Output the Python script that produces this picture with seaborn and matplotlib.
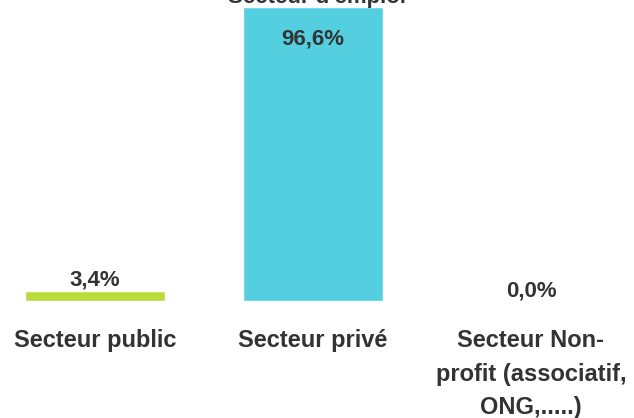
import matplotlib
matplotlib.use("Agg")
import matplotlib.pyplot as plt
import seaborn as sns
import pandas as pd

categories = ["Secteur public", "Secteur privé", "Secteur Non-\nprofit (associatif,\nONG,.....)"]
values = [3.4, 96.6, 0.0]
value_labels = ["3,4%", "96,6%", "0,0%"]
colors = ["#B8DC3C", "#53CFE0", "#F5A623"]
title = "Secteur d'emploi"

sns.set_theme(style="white")
plt.rcParams['font.family'] = ['Liberation Sans', 'DejaVu Sans']

df = pd.DataFrame({"cat": categories, "val": values})

fig = plt.figure(figsize=(6.34, 4.18), dpi=100)
ax = fig.add_axes([0, 117/418, 1, 1 - 117/418])
sns.barplot(data=df, x="cat", y="val", hue="cat", palette=colors, legend=False,
            width=0.64, ax=ax, saturation=1)
ax.set_xlim(-95/218, (634-95)/218)
ax.set_ylim(0, 98.9)
for s in ax.spines.values():
    s.set_visible(False)
ax.set_yticks([])
ax.set_xlabel("")
ax.set_ylabel("")
ax.tick_params(axis="x", length=0, pad=20)
for lab in ax.get_xticklabels():
    lab.set_fontsize(17)
    lab.set_fontweight("bold")
    lab.set_color("#333333")
    lab.set_linespacing(1.6)
    lab.set_verticalalignment("top")

for i, (v, t) in enumerate(zip(values, value_labels)):
    if v > 50:
        ax.annotate(t, (i, v), xytext=(0, -23), textcoords="offset points",
                    ha="center", va="center", fontsize=16, fontweight="bold", color="#333333")
    else:
        ax.annotate(t, (i, v), xytext=(0, 0), textcoords="offset points",
                    ha="center", va="bottom", fontsize=16, fontweight="bold", color="#333333")

fig.text(0.5, (418-3)/418, title, ha="center", va="baseline", fontsize=16,
         fontweight="bold", color="#333333")

fig.savefig("out.png", dpi=100)
